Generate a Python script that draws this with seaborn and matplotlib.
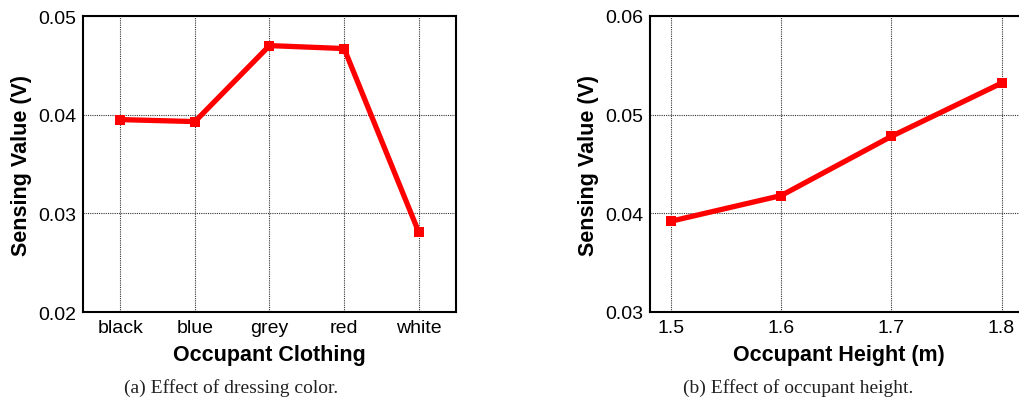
import matplotlib
matplotlib.use("Agg")
import matplotlib.pyplot as plt
import seaborn as sns
import pandas as pd

# Data
clothing = ["black", "blue", "grey", "red", "white"]
clothing_values = [0.0395, 0.0393, 0.0470, 0.0467, 0.0281]
heights = [1.5, 1.6, 1.7, 1.8]
height_values = [0.0392, 0.0418, 0.0478, 0.0532]
yticks_a = [0.02, 0.03, 0.04, 0.05]
yticks_b = [0.03, 0.04, 0.05, 0.06]

sns.set_style("white")
plt.rcParams['font.family'] = ['Liberation Sans', 'DejaVu Sans']
plt.rcParams['text.color'] = 'black'
plt.rcParams['axes.labelcolor'] = 'black'

fig = plt.figure(figsize=(10.2, 4.02), dpi=100)
W, H = 1020, 402
ax1 = fig.add_axes([83 / W, (H - 313) / H, 373 / W, 296 / H])
ax2 = fig.add_axes([650 / W, (H - 313) / H, 378 / W, 296 / H])

df_a = pd.DataFrame({"clothing": clothing, "value": clothing_values})
df_b = pd.DataFrame({"height": heights, "value": height_values})

line_kw = dict(color="#ff0000", linewidth=3.8, marker="s", markersize=7.5,
               markeredgewidth=0, markerfacecolor="#ff0000")

sns.lineplot(data=df_a, x="clothing", y="value", ax=ax1, sort=False, **line_kw)
sns.lineplot(data=df_b, x="height", y="value", ax=ax2, **line_kw)

ax1.set_xlim(-0.5, 4.5)
ax1.set_ylim(0.02, 0.05)
ax1.set_yticks(yticks_a)
ax1.set_yticklabels([f"{v:.2f}" for v in yticks_a])

ax2.set_xlim(1.481, 1.824)
ax2.set_ylim(0.03, 0.06)
ax2.set_xticks(heights)
ax2.set_xticklabels([f"{v:.1f}" for v in heights])
ax2.set_yticks(yticks_b)
ax2.set_yticklabels([f"{v:.2f}" for v in yticks_b])

for ax in (ax1, ax2):
    ax.grid(True, color="#333333", linestyle=(0, (1, 1)), linewidth=0.8)
    ax.set_axisbelow(True)
    for s in ax.spines.values():
        s.set_visible(True)
        s.set_color("black")
        s.set_linewidth(1.5)
    ax.tick_params(axis="both", length=0, labelsize=14, pad=5, colors="black")
    ax.set_ylabel("Sensing Value (V)", fontsize=15.5, fontweight="bold", labelpad=4)

ax1.set_xlabel("Occupant Clothing", fontsize=15.5, fontweight="bold", labelpad=6)
ax2.set_xlabel("Occupant Height (m)", fontsize=15.5, fontweight="bold", labelpad=6)

cap_font = ["Liberation Serif", "DejaVu Serif"]
fig.text(231 / W, 1 - 388 / H, "(a) Effect of dressing color.", ha="center", va="center",
         fontsize=14, family=cap_font, color="#222222")
fig.text(798 / W, 1 - 388 / H, "(b) Effect of occupant height.", ha="center", va="center",
         fontsize=14, family=cap_font, color="#222222")

fig.savefig("out.png", dpi=100)
